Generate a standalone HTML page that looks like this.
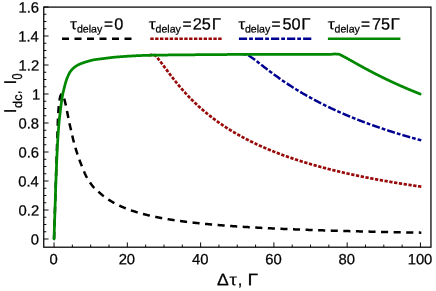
<!DOCTYPE html>
<html><head><meta charset="utf-8"><style>
html,body{margin:0;padding:0;background:#fff;}
svg{display:block;}
text{font-family:"Liberation Sans",sans-serif;fill:#000;stroke:#000;text-rendering:geometricPrecision;}
</style></head><body>
<svg width="436" height="291" viewBox="0 0 436 291">
<defs><mask id="m" maskUnits="userSpaceOnUse" x="0" y="0" width="436" height="291"><rect x="0" y="0" width="436" height="291" fill="#fff"/></mask></defs>
<rect x="0" y="0" width="436" height="291" fill="#fff"/>
<g fill="none" stroke-linejoin="round">
<path d="M54.05,239.00 L54.23,233.16 L54.41,227.36 L54.59,221.58 L54.77,215.83 L54.95,210.12 L55.13,204.44 L55.31,198.80 L55.49,193.19 L55.67,187.61 L55.85,182.03 L56.03,176.44 L56.21,170.82 L56.39,165.19 L56.56,159.61 L56.74,154.12 L56.92,148.78 L57.10,143.58 L57.28,138.41 L57.46,133.03 L57.64,127.40 L57.82,122.57 L58.00,118.54 L58.18,114.95 L58.36,111.87 L58.54,109.35 L58.72,107.17 L58.90,105.26 L59.08,103.62 L59.26,102.23 L59.44,100.94 L59.62,99.74 L59.80,98.64 L59.98,97.68 L60.16,96.88 L60.34,96.26 L60.52,95.78 L60.70,95.32 L60.88,94.91 L61.06,94.55 L61.24,94.26 L61.42,94.08 L61.60,94.00 L61.78,94.04 L61.96,94.16 L62.14,94.35 L62.32,94.59 L62.50,94.86 L62.68,95.15 L62.86,95.44 L63.04,95.75 L63.22,96.11 L63.40,96.51 L63.58,96.96 L63.76,97.43 L63.94,97.94 L64.12,98.47 L64.29,99.02 L64.47,99.62 L64.65,100.26 L64.83,100.95 L65.01,101.67 L65.19,102.43 L65.37,103.22 L65.55,104.04 L65.73,104.88 L65.91,105.74 L66.09,106.61 L66.27,107.49 L66.45,108.38 L66.63,109.28 L66.81,110.17 L66.99,111.05 L67.17,111.93 L67.35,112.79 L67.53,113.66 L67.71,114.56 L67.89,115.47 L68.07,116.40 L68.25,117.34 L68.43,118.28 L68.61,119.22 L68.79,120.16 L68.97,121.08 L69.15,121.98 L69.33,122.86 L69.51,123.71 L69.69,124.53 L69.87,125.31 L70.05,126.07 L70.23,126.81 L70.41,127.54 L70.59,128.28 L70.77,129.01 L70.95,129.77 L71.13,130.53 L71.31,131.31 L71.49,132.09 L71.67,132.88 L71.85,133.67 L72.03,134.46 L72.39,136.07 L72.76,137.66 L73.12,139.22 L73.49,140.71 L73.86,142.14 L74.22,143.51 L74.59,144.84 L74.96,146.15 L75.32,147.42 L75.69,148.67 L76.06,149.88 L76.42,151.07 L76.79,152.23 L77.16,153.36 L77.52,154.47 L77.89,155.55 L78.26,156.61 L78.62,157.65 L78.99,158.66 L79.36,159.66 L79.72,160.64 L80.09,161.60 L80.45,162.55 L80.82,163.49 L81.19,164.42 L81.55,165.34 L81.92,166.26 L82.29,167.19 L82.65,168.11 L83.02,169.04 L83.39,169.96 L83.75,170.86 L84.12,171.75 L84.49,172.62 L84.85,173.47 L85.22,174.28 L85.59,175.06 L85.95,175.80 L86.32,176.50 L86.69,177.15 L87.05,177.77 L87.42,178.39 L87.78,179.00 L88.15,179.61 L88.52,180.21 L88.88,180.79 L89.25,181.37 L89.62,181.94 L89.98,182.49 L90.35,183.04 L90.72,183.57 L91.08,184.08 L91.45,184.58 L91.82,185.07 L92.18,185.53 L92.55,185.98 L92.92,186.42 L93.28,186.83 L93.65,187.22 L94.02,187.60 L94.38,187.95 L94.75,188.28 L95.11,188.58 L95.48,188.86 L95.85,189.06 L96.21,189.44 L96.58,189.82 L96.95,190.19 L97.31,190.56 L97.68,190.92 L98.05,191.27 L98.41,191.62 L98.78,191.97 L99.15,192.31 L99.51,192.64 L99.88,192.97 L100.25,193.30 L100.61,193.62 L100.98,193.93 L101.34,194.25 L101.71,194.55 L102.08,194.86 L102.44,195.16 L102.81,195.45 L103.18,195.74 L103.54,196.03 L103.91,196.31 L104.28,196.59 L104.64,196.87 L105.01,197.14 L105.38,197.41 L105.74,197.68 L106.11,197.94 L106.48,198.20 L106.84,198.45 L107.21,198.71 L107.58,198.96 L107.94,199.20 L108.31,199.45 L108.68,199.69 L109.04,199.92 L109.41,200.16 L109.77,200.39 L110.14,200.62 L110.51,200.85 L110.87,201.07 L111.24,201.29 L111.61,201.51 L111.97,201.73 L112.34,201.94 L112.71,202.15 L113.07,202.36 L113.44,202.57 L113.81,202.77 L114.17,202.97 L114.54,203.17 L114.91,203.37 L115.27,203.56 L115.64,203.76 L116.00,203.95 L116.37,204.14 L116.74,204.32 L117.10,204.51 L117.47,204.69 L117.84,204.87 L118.20,205.05 L118.57,205.23 L118.94,205.41 L119.30,205.58 L119.67,205.75 L120.04,205.92 L120.40,206.09 L120.77,206.26 L121.14,206.42 L121.50,206.58 L121.87,206.75 L122.24,206.91 L122.60,207.06 L122.97,207.22 L123.34,207.38 L123.70,207.53 L124.07,207.68 L124.43,207.83 L124.80,207.98 L125.17,208.13 L125.53,208.28 L125.90,208.42 L126.27,208.57 L126.63,208.71 L127.00,208.85 L127.37,208.99 L127.73,209.13 L128.10,209.27 L128.47,209.40 L128.83,209.54 L129.20,209.67 L129.57,209.80 L129.93,209.93 L130.30,210.06 L130.67,210.19 L131.03,210.32 L131.40,210.45 L131.76,210.57 L132.13,210.70 L132.50,210.82 L132.86,210.94 L133.23,211.06 L133.60,211.18 L133.96,211.30 L134.33,211.42 L134.70,211.54 L135.06,211.66 L135.43,211.77 L135.80,211.88 L136.16,212.00 L136.53,212.11 L136.90,212.22 L137.26,212.33 L137.63,212.44 L138.00,212.55 L138.36,212.66 L138.73,212.76 L139.09,212.87 L139.46,212.98 L139.83,213.08 L140.19,213.18 L140.56,213.29 L140.93,213.39 L141.29,213.49 L141.66,213.59 L142.03,213.69 L142.39,213.79 L142.76,213.89 L143.13,213.98 L143.49,214.08 L143.86,214.17 L144.23,214.27 L144.59,214.36 L144.96,214.46 L145.32,214.55 L145.69,214.64 L146.06,214.73 L146.42,214.82 L146.79,214.91 L147.16,215.00 L147.52,215.09 L147.89,215.18 L148.26,215.27 L148.62,215.35 L148.99,215.44 L149.36,215.53 L149.72,215.61 L150.09,215.70 L150.46,215.78 L150.82,215.86 L151.19,215.94 L151.56,216.03 L151.92,216.11 L152.29,216.19 L152.66,216.27 L153.02,216.35 L153.39,216.43 L153.75,216.51 L154.12,216.58 L154.49,216.66 L154.85,216.74 L155.11,216.79 L155.22,216.81 L155.59,216.89 L155.95,216.97 L156.32,217.04 L156.69,217.12 L157.05,217.19 L157.42,217.26 L157.79,217.34 L158.15,217.41 L158.52,217.48 L158.89,217.55 L159.25,217.62 L159.62,217.69 L159.99,217.76 L160.35,217.83 L160.72,217.90 L161.08,217.97 L161.45,218.04 L161.82,218.11 L162.18,218.17 L162.55,218.24 L162.92,218.31 L163.28,218.37 L163.65,218.44 L164.02,218.50 L164.38,218.57 L164.75,218.63 L165.12,218.70 L165.48,218.76 L165.85,218.82 L166.22,218.88 L166.58,218.95 L166.95,219.01 L167.31,219.07 L167.68,219.13 L168.05,219.19 L168.41,219.25 L168.78,219.31 L169.15,219.37 L169.51,219.43 L169.88,219.49 L170.25,219.55 L170.61,219.61 L170.98,219.67 L171.35,219.72 L171.71,219.78 L172.08,219.84 L172.45,219.90 L172.81,219.95 L173.18,220.01 L173.55,220.06 L173.91,220.12 L174.28,220.17 L174.65,220.23 L175.01,220.28 L175.38,220.34 L175.74,220.39 L176.11,220.44 L176.48,220.50 L176.84,220.55 L177.21,220.60 L177.58,220.65 L177.94,220.71 L178.31,220.76 L178.68,220.81 L179.04,220.86 L179.41,220.91 L179.78,220.96 L180.14,221.01 L180.51,221.06 L180.88,221.11 L181.24,221.16 L181.61,221.21 L181.98,221.26 L182.34,221.31 L182.71,221.35 L183.07,221.40 L183.44,221.45 L183.81,221.50 L184.17,221.55 L184.54,221.59 L184.91,221.64 L185.27,221.69 L185.64,221.73 L186.01,221.78 L186.37,221.82 L186.74,221.87 L187.11,221.91 L187.47,221.96 L187.84,222.00 L188.21,222.05 L188.57,222.09 L188.94,222.14 L189.31,222.18 L189.67,222.22 L190.04,222.27 L190.40,222.31 L190.77,222.35 L191.14,222.40 L191.50,222.44 L191.87,222.48 L192.24,222.52 L192.60,222.57 L192.97,222.61 L193.34,222.65 L193.70,222.69 L194.07,222.73 L194.44,222.77 L194.80,222.81 L195.17,222.85 L195.54,222.89 L195.90,222.93 L196.27,222.97 L196.63,223.01 L197.00,223.05 L197.37,223.09 L197.73,223.13 L198.10,223.17 L198.47,223.21 L198.83,223.25 L199.20,223.28 L199.57,223.32 L199.93,223.36 L200.30,223.40 L200.67,223.44 L201.03,223.47 L201.40,223.51 L201.77,223.55 L202.13,223.58 L202.50,223.62 L202.87,223.66 L203.23,223.69 L203.60,223.73 L203.97,223.77 L204.33,223.80 L204.70,223.84 L205.06,223.87 L205.43,223.91 L205.80,223.94 L206.16,223.98 L206.53,224.01 L206.90,224.05 L207.26,224.08 L207.63,224.12 L208.00,224.15 L208.36,224.18 L208.73,224.22 L209.10,224.25 L209.46,224.29 L209.83,224.32 L210.20,224.35 L210.56,224.39 L210.93,224.42 L211.30,224.45 L211.66,224.48 L212.03,224.52 L212.39,224.55 L212.76,224.58 L213.13,224.61 L213.49,224.64 L213.86,224.68 L214.23,224.71 L214.59,224.74 L214.96,224.77 L215.33,224.80 L215.69,224.83 L216.06,224.86 L216.43,224.90 L216.79,224.93 L217.16,224.96 L217.53,224.99 L217.89,225.02 L218.26,225.05 L218.63,225.08 L218.99,225.11 L219.36,225.14 L219.72,225.17 L220.09,225.20 L220.46,225.23 L220.82,225.26 L221.19,225.28 L221.56,225.31 L221.92,225.34 L222.29,225.37 L222.66,225.40 L223.02,225.43 L223.39,225.46 L223.76,225.48 L224.12,225.51 L224.49,225.54 L224.86,225.57 L225.22,225.60 L225.59,225.62 L225.96,225.65 L226.32,225.68 L226.69,225.71 L227.05,225.73 L227.42,225.76 L227.79,225.79 L228.15,225.82 L228.52,225.84 L228.89,225.87 L229.25,225.90 L229.62,225.92 L229.99,225.95 L230.35,225.97 L230.72,226.00 L231.09,226.03 L231.45,226.05 L231.82,226.08 L232.19,226.10 L232.55,226.13 L232.92,226.16 L233.29,226.18 L233.65,226.21 L234.02,226.23 L234.38,226.26 L234.75,226.28 L235.12,226.31 L235.48,226.33 L235.85,226.36 L236.22,226.38 L236.58,226.41 L236.95,226.43 L237.32,226.45 L237.68,226.48 L238.05,226.50 L238.42,226.53 L238.78,226.55 L239.15,226.58 L239.52,226.60 L239.88,226.62 L240.25,226.65 L240.62,226.67 L240.98,226.69 L241.35,226.72 L241.71,226.74 L242.08,226.76 L242.45,226.79 L242.81,226.81 L243.18,226.83 L243.55,226.86 L243.91,226.88 L244.28,226.90 L244.65,226.92 L245.01,226.95 L245.38,226.97 L245.75,226.99 L246.11,227.01 L246.48,227.04 L246.85,227.06 L247.21,227.08 L247.58,227.10 L247.95,227.12 L248.31,227.14 L248.68,227.17 L249.04,227.19 L249.41,227.21 L249.78,227.23 L250.14,227.25 L250.51,227.27 L250.88,227.30 L251.24,227.32 L251.61,227.34 L251.98,227.36 L252.34,227.38 L252.71,227.40 L253.08,227.42 L253.44,227.44 L253.81,227.46 L254.18,227.48 L254.54,227.50 L254.91,227.52 L255.28,227.54 L255.64,227.56 L256.01,227.58 L256.37,227.60 L256.74,227.62 L257.11,227.64 L257.47,227.66 L257.84,227.68 L258.21,227.70 L258.57,227.72 L258.94,227.74 L259.31,227.76 L259.67,227.78 L260.04,227.80 L260.41,227.82 L260.77,227.84 L261.14,227.86 L261.51,227.88 L261.87,227.90 L262.24,227.92 L262.61,227.94 L262.97,227.95 L263.34,227.97 L263.70,227.99 L264.07,228.01 L264.44,228.03 L264.80,228.05 L265.17,228.07 L265.54,228.09 L265.90,228.10 L266.27,228.12 L266.64,228.14 L267.00,228.16 L267.37,228.18 L267.74,228.19 L268.10,228.21 L268.47,228.23 L268.84,228.25 L269.20,228.27 L269.57,228.28 L269.94,228.30 L270.30,228.32 L270.67,228.34 L271.03,228.35 L271.40,228.37 L271.77,228.39 L272.13,228.41 L272.50,228.42 L272.87,228.44 L273.23,228.46 L273.60,228.48 L273.97,228.49 L274.33,228.51 L274.70,228.53 L275.07,228.54 L275.43,228.56 L275.80,228.58 L276.17,228.59 L276.53,228.61 L276.90,228.63 L277.27,228.64 L277.63,228.66 L278.00,228.68 L278.36,228.69 L278.73,228.71 L279.10,228.73 L279.46,228.74 L279.83,228.76 L280.20,228.78 L280.56,228.79 L280.93,228.81 L281.30,228.82 L281.66,228.84 L282.03,228.86 L282.40,228.87 L282.76,228.89 L283.13,228.90 L283.50,228.92 L283.86,228.93 L284.23,228.95 L284.60,228.97 L284.96,228.98 L285.33,229.00 L285.69,229.01 L286.06,229.03 L286.43,229.04 L286.79,229.06 L287.16,229.07 L287.53,229.09 L287.89,229.10 L288.26,229.12 L288.63,229.13 L288.99,229.15 L289.36,229.16 L289.73,229.18 L290.09,229.19 L290.46,229.21 L290.83,229.22 L291.19,229.24 L291.56,229.25 L291.93,229.27 L292.29,229.28 L292.66,229.30 L293.02,229.31 L293.39,229.33 L293.76,229.34 L294.12,229.35 L294.49,229.37 L294.86,229.38 L295.22,229.40 L295.59,229.41 L295.96,229.43 L296.32,229.44 L296.69,229.45 L297.06,229.47 L297.42,229.48 L297.79,229.50 L298.16,229.51 L298.52,229.52 L298.89,229.54 L299.25,229.55 L299.62,229.57 L299.99,229.58 L300.35,229.59 L300.72,229.61 L301.09,229.62 L301.45,229.63 L301.82,229.65 L302.19,229.66 L302.55,229.67 L302.92,229.69 L303.29,229.70 L303.65,229.72 L304.02,229.73 L304.39,229.74 L304.75,229.75 L305.12,229.77 L305.49,229.78 L305.85,229.79 L306.22,229.81 L306.58,229.82 L306.95,229.83 L307.32,229.85 L307.68,229.86 L308.05,229.87 L308.42,229.89 L308.78,229.90 L309.15,229.91 L309.52,229.92 L309.88,229.94 L310.25,229.95 L310.62,229.96 L310.98,229.97 L311.35,229.99 L311.72,230.00 L312.08,230.01 L312.45,230.02 L312.82,230.04 L313.18,230.05 L313.55,230.06 L313.91,230.07 L314.28,230.09 L314.65,230.10 L315.01,230.11 L315.38,230.12 L315.75,230.14 L316.11,230.15 L316.48,230.16 L316.85,230.17 L317.21,230.18 L317.58,230.20 L317.95,230.21 L318.31,230.22 L318.68,230.23 L319.05,230.24 L319.41,230.25 L319.78,230.27 L320.15,230.28 L320.51,230.29 L320.88,230.30 L321.25,230.31 L321.61,230.33 L321.98,230.34 L322.34,230.35 L322.71,230.36 L323.08,230.37 L323.44,230.38 L323.81,230.39 L324.18,230.41 L324.54,230.42 L324.91,230.43 L325.28,230.44 L325.64,230.45 L326.01,230.46 L326.38,230.47 L326.74,230.49 L327.11,230.50 L327.48,230.51 L327.84,230.52 L328.21,230.53 L328.57,230.54 L328.94,230.55 L329.31,230.56 L329.67,230.57 L330.04,230.58 L330.41,230.60 L330.77,230.61 L331.14,230.62 L331.51,230.63 L331.87,230.64 L332.24,230.65 L332.61,230.66 L332.97,230.67 L333.34,230.68 L333.71,230.69 L334.07,230.70 L334.44,230.71 L334.81,230.72 L335.17,230.74 L335.54,230.75 L335.90,230.76 L336.27,230.77 L336.64,230.78 L337.00,230.79 L337.37,230.80 L337.74,230.81 L338.10,230.82 L338.47,230.83 L338.84,230.84 L339.20,230.85 L339.20,230.85 L339.57,230.86 L339.94,230.87 L340.30,230.88 L340.67,230.89 L341.04,230.90 L341.40,230.91 L341.77,230.92 L342.14,230.93 L342.50,230.94 L342.87,230.95 L343.24,230.96 L343.60,230.97 L343.97,230.98 L344.33,230.99 L344.70,231.00 L345.07,231.01 L345.43,231.02 L345.80,231.03 L346.17,231.04 L346.53,231.05 L346.90,231.06 L347.27,231.07 L347.63,231.08 L348.00,231.09 L348.37,231.10 L348.73,231.11 L349.10,231.12 L349.47,231.13 L349.83,231.14 L350.20,231.15 L350.56,231.16 L350.93,231.17 L351.30,231.18 L351.66,231.18 L352.03,231.19 L352.40,231.20 L352.76,231.21 L353.13,231.22 L353.50,231.23 L353.86,231.24 L354.23,231.25 L354.60,231.26 L354.96,231.27 L355.33,231.28 L355.70,231.29 L356.06,231.30 L356.43,231.31 L356.80,231.31 L357.16,231.32 L357.53,231.33 L357.89,231.34 L358.26,231.35 L358.63,231.36 L358.99,231.37 L359.36,231.38 L359.73,231.39 L360.09,231.40 L360.46,231.41 L360.83,231.41 L361.19,231.42 L361.56,231.43 L361.93,231.44 L362.29,231.45 L362.66,231.46 L363.03,231.47 L363.39,231.48 L363.76,231.48 L364.13,231.49 L364.49,231.50 L364.86,231.51 L365.22,231.52 L365.59,231.53 L365.96,231.54 L366.32,231.55 L366.69,231.55 L367.06,231.56 L367.42,231.57 L367.79,231.58 L368.16,231.59 L368.52,231.60 L368.89,231.60 L369.26,231.61 L369.62,231.62 L369.99,231.63 L370.36,231.64 L370.72,231.65 L371.09,231.66 L371.46,231.66 L371.82,231.67 L372.19,231.68 L372.56,231.69 L372.92,231.70 L373.29,231.71 L373.65,231.71 L374.02,231.72 L374.39,231.73 L374.75,231.74 L375.12,231.75 L375.49,231.75 L375.85,231.76 L376.22,231.77 L376.59,231.78 L376.95,231.79 L377.32,231.79 L377.69,231.80 L378.05,231.81 L378.42,231.82 L378.79,231.83 L379.15,231.83 L379.52,231.84 L379.88,231.85 L380.25,231.86 L380.62,231.87 L380.98,231.87 L381.35,231.88 L381.72,231.89 L382.08,231.90 L382.45,231.91 L382.82,231.91 L383.18,231.92 L383.55,231.93 L383.92,231.94 L384.28,231.94 L384.65,231.95 L385.02,231.96 L385.38,231.97 L385.75,231.97 L386.12,231.98 L386.48,231.99 L386.85,232.00 L387.21,232.00 L387.58,232.01 L387.95,232.02 L388.31,232.03 L388.68,232.04 L389.05,232.04 L389.41,232.05 L389.78,232.06 L390.15,232.06 L390.51,232.07 L390.88,232.08 L391.25,232.09 L391.61,232.09 L391.98,232.10 L392.35,232.11 L392.71,232.12 L393.08,232.12 L393.45,232.13 L393.81,232.14 L394.18,232.15 L394.55,232.15 L394.91,232.16 L395.28,232.17 L395.64,232.17 L396.01,232.18 L396.38,232.19 L396.74,232.20 L397.11,232.20 L397.48,232.21 L397.84,232.22 L398.21,232.22 L398.58,232.23 L398.94,232.24 L399.31,232.25 L399.68,232.25 L400.04,232.26 L400.41,232.27 L400.78,232.27 L401.14,232.28 L401.51,232.29 L401.88,232.29 L402.24,232.30 L402.61,232.31 L402.97,232.32 L403.34,232.32 L403.71,232.33 L404.07,232.34 L404.44,232.34 L404.81,232.35 L405.17,232.36 L405.54,232.36 L405.91,232.37 L406.27,232.38 L406.64,232.38 L407.01,232.39 L407.37,232.40 L407.74,232.40 L408.11,232.41 L408.47,232.42 L408.84,232.42 L409.20,232.43 L409.57,232.44 L409.94,232.44 L410.30,232.45 L410.67,232.46 L411.04,232.46 L411.40,232.47 L411.77,232.48 L412.14,232.48 L412.50,232.49 L412.87,232.50 L413.24,232.50 L413.60,232.51 L413.97,232.52 L414.34,232.52 L414.70,232.53 L415.07,232.54 L415.44,232.54 L415.80,232.55 L416.17,232.56 L416.53,232.56 L416.90,232.57 L417.27,232.57 L417.63,232.58 L418.00,232.59 L418.37,232.59 L418.73,232.60 L419.10,232.61 L419.47,232.61 L419.83,232.62 L420.20,232.63 L420.57,232.63 L420.93,232.64 L421.30,232.64" stroke="#000" stroke-width="2.5" stroke-dasharray="7.1,5.487" stroke-dashoffset="12.55"/>
<path d="M149.36,55.12 L149.72,55.07 L150.09,55.03 L150.46,54.99 L150.82,54.96 L151.19,54.95 L151.56,54.96 L151.92,54.98 L152.29,55.01 L152.66,55.04 L153.02,55.08 L153.39,55.11 L153.75,55.13 L154.12,55.15 L154.49,55.16 L154.85,55.16 L155.11,55.17 L155.22,55.29 L155.59,55.70 L155.95,56.11 L156.32,56.53 L156.69,56.96 L157.05,57.40 L157.42,57.84 L157.79,58.28 L158.15,58.74 L158.52,59.19 L158.89,59.65 L159.25,60.12 L159.62,60.59 L159.99,61.06 L160.35,61.54 L160.72,62.02 L161.08,62.50 L161.45,62.98 L161.82,63.47 L162.18,63.95 L162.55,64.44 L162.92,64.93 L163.28,65.42 L163.65,65.91 L164.02,66.40 L164.38,66.90 L164.75,67.39 L165.12,67.88 L165.48,68.37 L165.85,68.87 L166.22,69.36 L166.58,69.85 L166.95,70.34 L167.31,70.83 L167.68,71.32 L168.05,71.81 L168.41,72.30 L168.78,72.78 L169.15,73.27 L169.51,73.75 L169.88,74.24 L170.25,74.72 L170.61,75.20 L170.98,75.68 L171.35,76.16 L171.71,76.63 L172.08,77.11 L172.45,77.58 L172.81,78.05 L173.18,78.52 L173.55,78.99 L173.91,79.45 L174.28,79.91 L174.65,80.38 L175.01,80.84 L175.38,81.29 L175.74,81.75 L176.11,82.20 L176.48,82.66 L176.84,83.11 L177.21,83.55 L177.58,84.00 L177.94,84.44 L178.31,84.89 L178.68,85.33 L179.04,85.76 L179.41,86.20 L179.78,86.63 L180.14,87.07 L180.51,87.50 L180.88,87.92 L181.24,88.35 L181.61,88.77 L181.98,89.19 L182.34,89.61 L182.71,90.03 L183.07,90.45 L183.44,90.86 L183.81,91.27 L184.17,91.68 L184.54,92.09 L184.91,92.49 L185.27,92.90 L185.64,93.30 L186.01,93.70 L186.37,94.09 L186.74,94.49 L187.11,94.88 L187.47,95.27 L187.84,95.66 L188.21,96.05 L188.57,96.43 L188.94,96.82 L189.31,97.20 L189.67,97.58 L190.04,97.96 L190.40,98.33 L190.77,98.70 L191.14,99.08 L191.50,99.45 L191.87,99.81 L192.24,100.18 L192.60,100.54 L192.97,100.91 L193.34,101.27 L193.70,101.63 L194.07,101.98 L194.44,102.34 L194.80,102.69 L195.17,103.04 L195.54,103.39 L195.90,103.74 L196.27,104.09 L196.63,104.43 L197.00,104.78 L197.37,105.12 L197.73,105.46 L198.10,105.80 L198.47,106.13 L198.83,106.47 L199.20,106.80 L199.57,107.13 L199.93,107.46 L200.30,107.79 L200.67,108.12 L201.03,108.44 L201.40,108.76 L201.77,109.09 L202.13,109.41 L202.50,109.73 L202.87,110.04 L203.23,110.36 L203.60,110.67 L203.97,110.98 L204.33,111.30 L204.70,111.61 L205.06,111.91 L205.43,112.22 L205.80,112.53 L206.16,112.83 L206.53,113.13 L206.90,113.43 L207.26,113.73 L207.63,114.03 L208.00,114.33 L208.36,114.62 L208.73,114.92 L209.10,115.21 L209.46,115.50 L209.83,115.79 L210.20,116.08 L210.56,116.36 L210.93,116.65 L211.30,116.93 L211.66,117.22 L212.03,117.50 L212.39,117.78 L212.76,118.06 L213.13,118.34 L213.49,118.61 L213.86,118.89 L214.23,119.16 L214.59,119.44 L214.96,119.71 L215.33,119.98 L215.69,120.25 L216.06,120.51 L216.43,120.78 L216.79,121.05 L217.16,121.31 L217.53,121.57 L217.89,121.84 L218.26,122.10 L218.63,122.36 L218.99,122.62 L219.36,122.87 L219.72,123.13 L220.09,123.38 L220.46,123.64 L220.82,123.89 L221.19,124.14 L221.56,124.39 L221.92,124.64 L222.29,124.89 L222.66,125.14 L223.02,125.39 L223.39,125.63 L223.76,125.88 L224.12,126.12 L224.49,126.36 L224.86,126.60 L225.22,126.84 L225.59,127.08 L225.96,127.32 L226.32,127.56 L226.69,127.79 L227.05,128.03 L227.42,128.26 L227.79,128.50 L228.15,128.73 L228.52,128.96 L228.89,129.19 L229.25,129.42 L229.62,129.65 L229.99,129.87 L230.35,130.10 L230.72,130.33 L231.09,130.55 L231.45,130.77 L231.82,131.00 L232.19,131.22 L232.55,131.44 L232.92,131.66 L233.29,131.88 L233.65,132.10 L234.02,132.31 L234.38,132.53 L234.75,132.75 L235.12,132.96 L235.48,133.17 L235.85,133.39 L236.22,133.60 L236.58,133.81 L236.95,134.02 L237.32,134.23 L237.68,134.44 L238.05,134.65 L238.42,134.85 L238.78,135.06 L239.15,135.26 L239.52,135.47 L239.88,135.67 L240.25,135.88 L240.62,136.08 L240.98,136.28 L241.35,136.48 L241.71,136.68 L242.08,136.88 L242.45,137.08 L242.81,137.28 L243.18,137.47 L243.55,137.67 L243.91,137.86 L244.28,138.06 L244.65,138.25 L245.01,138.44 L245.38,138.64 L245.75,138.83 L246.11,139.02 L246.48,139.21 L246.85,139.40 L247.21,139.59 L247.58,139.78 L247.95,139.96 L248.31,140.15 L248.68,140.33 L249.04,140.52 L249.41,140.70 L249.78,140.89 L250.14,141.07 L250.51,141.25 L250.88,141.43 L251.24,141.62 L251.61,141.80 L251.98,141.98 L252.34,142.15 L252.71,142.33 L253.08,142.51 L253.44,142.69 L253.81,142.86 L254.18,143.04 L254.54,143.22 L254.91,143.39 L255.28,143.56 L255.64,143.74 L256.01,143.91 L256.37,144.08 L256.74,144.25 L257.11,144.42 L257.47,144.59 L257.84,144.76 L258.21,144.93 L258.57,145.10 L258.94,145.27 L259.31,145.43 L259.67,145.60 L260.04,145.77 L260.41,145.93 L260.77,146.10 L261.14,146.26 L261.51,146.43 L261.87,146.59 L262.24,146.75 L262.61,146.91 L262.97,147.07 L263.34,147.23 L263.70,147.39 L264.07,147.55 L264.44,147.71 L264.80,147.87 L265.17,148.03 L265.54,148.19 L265.90,148.34 L266.27,148.50 L266.64,148.66 L267.00,148.81 L267.37,148.97 L267.74,149.12 L268.10,149.27 L268.47,149.43 L268.84,149.58 L269.20,149.73 L269.57,149.88 L269.94,150.03 L270.30,150.18 L270.67,150.33 L271.03,150.48 L271.40,150.63 L271.77,150.78 L272.13,150.93 L272.50,151.08 L272.87,151.22 L273.23,151.37 L273.60,151.52 L273.97,151.66 L274.33,151.81 L274.70,151.95 L275.07,152.10 L275.43,152.24 L275.80,152.38 L276.17,152.53 L276.53,152.67 L276.90,152.81 L277.27,152.95 L277.63,153.09 L278.00,153.23 L278.36,153.37 L278.73,153.51 L279.10,153.65 L279.46,153.79 L279.83,153.93 L280.20,154.06 L280.56,154.20 L280.93,154.34 L281.30,154.48 L281.66,154.61 L282.03,154.75 L282.40,154.88 L282.76,155.02 L283.13,155.15 L283.50,155.28 L283.86,155.42 L284.23,155.55 L284.60,155.68 L284.96,155.81 L285.33,155.95 L285.69,156.08 L286.06,156.21 L286.43,156.34 L286.79,156.47 L287.16,156.60 L287.53,156.73 L287.89,156.86 L288.26,156.98 L288.63,157.11 L288.99,157.24 L289.36,157.37 L289.73,157.49 L290.09,157.62 L290.46,157.75 L290.83,157.87 L291.19,158.00 L291.56,158.12 L291.93,158.25 L292.29,158.37 L292.66,158.49 L293.02,158.62 L293.39,158.74 L293.76,158.86 L294.12,158.98 L294.49,159.11 L294.86,159.23 L295.22,159.35 L295.59,159.47 L295.96,159.59 L296.32,159.71 L296.69,159.83 L297.06,159.95 L297.42,160.07 L297.79,160.19 L298.16,160.30 L298.52,160.42 L298.89,160.54 L299.25,160.66 L299.62,160.77 L299.99,160.89 L300.35,161.01 L300.72,161.12 L301.09,161.24 L301.45,161.35 L301.82,161.47 L302.19,161.58 L302.55,161.70 L302.92,161.81 L303.29,161.92 L303.65,162.04 L304.02,162.15 L304.39,162.26 L304.75,162.37 L305.12,162.48 L305.49,162.60 L305.85,162.71 L306.22,162.82 L306.58,162.93 L306.95,163.04 L307.32,163.15 L307.68,163.26 L308.05,163.37 L308.42,163.47 L308.78,163.58 L309.15,163.69 L309.52,163.80 L309.88,163.91 L310.25,164.01 L310.62,164.12 L310.98,164.23 L311.35,164.33 L311.72,164.44 L312.08,164.55 L312.45,164.65 L312.82,164.76 L313.18,164.86 L313.55,164.97 L313.91,165.07 L314.28,165.17 L314.65,165.28 L315.01,165.38 L315.38,165.48 L315.75,165.59 L316.11,165.69 L316.48,165.79 L316.85,165.89 L317.21,166.00 L317.58,166.10 L317.95,166.20 L318.31,166.30 L318.68,166.40 L319.05,166.50 L319.41,166.60 L319.78,166.70 L320.15,166.80 L320.51,166.90 L320.88,167.00 L321.25,167.10 L321.61,167.19 L321.98,167.29 L322.34,167.39 L322.71,167.49 L323.08,167.59 L323.44,167.68 L323.81,167.78 L324.18,167.88 L324.54,167.97 L324.91,168.07 L325.28,168.16 L325.64,168.26 L326.01,168.35 L326.38,168.45 L326.74,168.54 L327.11,168.64 L327.48,168.73 L327.84,168.83 L328.21,168.92 L328.57,169.01 L328.94,169.11 L329.31,169.20 L329.67,169.29 L330.04,169.38 L330.41,169.48 L330.77,169.57 L331.14,169.66 L331.51,169.75 L331.87,169.84 L332.24,169.93 L332.61,170.02 L332.97,170.12 L333.34,170.21 L333.71,170.30 L334.07,170.39 L334.44,170.48 L334.81,170.56 L335.17,170.65 L335.54,170.74 L335.90,170.83 L336.27,170.92 L336.64,171.01 L337.00,171.10 L337.37,171.18 L337.74,171.27 L338.10,171.36 L338.47,171.45 L338.84,171.53 L339.20,171.62 L339.20,171.62 L339.57,171.71 L339.94,171.79 L340.30,171.88 L340.67,171.96 L341.04,172.05 L341.40,172.13 L341.77,172.22 L342.14,172.30 L342.50,172.39 L342.87,172.47 L343.24,172.56 L343.60,172.64 L343.97,172.72 L344.33,172.81 L344.70,172.89 L345.07,172.97 L345.43,173.06 L345.80,173.14 L346.17,173.22 L346.53,173.31 L346.90,173.39 L347.27,173.47 L347.63,173.55 L348.00,173.63 L348.37,173.71 L348.73,173.80 L349.10,173.88 L349.47,173.96 L349.83,174.04 L350.20,174.12 L350.56,174.20 L350.93,174.28 L351.30,174.36 L351.66,174.44 L352.03,174.52 L352.40,174.60 L352.76,174.67 L353.13,174.75 L353.50,174.83 L353.86,174.91 L354.23,174.99 L354.60,175.07 L354.96,175.14 L355.33,175.22 L355.70,175.30 L356.06,175.38 L356.43,175.45 L356.80,175.53 L357.16,175.61 L357.53,175.68 L357.89,175.76 L358.26,175.84 L358.63,175.91 L358.99,175.99 L359.36,176.06 L359.73,176.14 L360.09,176.21 L360.46,176.29 L360.83,176.36 L361.19,176.44 L361.56,176.51 L361.93,176.59 L362.29,176.66 L362.66,176.73 L363.03,176.81 L363.39,176.88 L363.76,176.96 L364.13,177.03 L364.49,177.10 L364.86,177.17 L365.22,177.25 L365.59,177.32 L365.96,177.39 L366.32,177.46 L366.69,177.54 L367.06,177.61 L367.42,177.68 L367.79,177.75 L368.16,177.82 L368.52,177.89 L368.89,177.97 L369.26,178.04 L369.62,178.11 L369.99,178.18 L370.36,178.25 L370.72,178.32 L371.09,178.39 L371.46,178.46 L371.82,178.53 L372.19,178.60 L372.56,178.67 L372.92,178.74 L373.29,178.81 L373.65,178.87 L374.02,178.94 L374.39,179.01 L374.75,179.08 L375.12,179.15 L375.49,179.22 L375.85,179.28 L376.22,179.35 L376.59,179.42 L376.95,179.49 L377.32,179.55 L377.69,179.62 L378.05,179.69 L378.42,179.76 L378.79,179.82 L379.15,179.89 L379.52,179.96 L379.88,180.02 L380.25,180.09 L380.62,180.15 L380.98,180.22 L381.35,180.29 L381.72,180.35 L382.08,180.42 L382.45,180.48 L382.82,180.55 L383.18,180.61 L383.55,180.68 L383.92,180.74 L384.28,180.81 L384.65,180.87 L385.02,180.94 L385.38,181.00 L385.75,181.06 L386.12,181.13 L386.48,181.19 L386.85,181.26 L387.21,181.32 L387.58,181.38 L387.95,181.45 L388.31,181.51 L388.68,181.57 L389.05,181.63 L389.41,181.70 L389.78,181.76 L390.15,181.82 L390.51,181.88 L390.88,181.95 L391.25,182.01 L391.61,182.07 L391.98,182.13 L392.35,182.19 L392.71,182.25 L393.08,182.32 L393.45,182.38 L393.81,182.44 L394.18,182.50 L394.55,182.56 L394.91,182.62 L395.28,182.68 L395.64,182.74 L396.01,182.80 L396.38,182.86 L396.74,182.92 L397.11,182.98 L397.48,183.04 L397.84,183.10 L398.21,183.16 L398.58,183.22 L398.94,183.28 L399.31,183.34 L399.68,183.40 L400.04,183.46 L400.41,183.51 L400.78,183.57 L401.14,183.63 L401.51,183.69 L401.88,183.75 L402.24,183.81 L402.61,183.86 L402.97,183.92 L403.34,183.98 L403.71,184.04 L404.07,184.09 L404.44,184.15 L404.81,184.21 L405.17,184.27 L405.54,184.32 L405.91,184.38 L406.27,184.44 L406.64,184.49 L407.01,184.55 L407.37,184.61 L407.74,184.66 L408.11,184.72 L408.47,184.77 L408.84,184.83 L409.20,184.89 L409.57,184.94 L409.94,185.00 L410.30,185.05 L410.67,185.11 L411.04,185.16 L411.40,185.22 L411.77,185.27 L412.14,185.33 L412.50,185.38 L412.87,185.44 L413.24,185.49 L413.60,185.55 L413.97,185.60 L414.34,185.66 L414.70,185.71 L415.07,185.76 L415.44,185.82 L415.80,185.87 L416.17,185.93 L416.53,185.98 L416.90,186.03 L417.27,186.09 L417.63,186.14 L418.00,186.19 L418.37,186.25 L418.73,186.30 L419.10,186.35 L419.47,186.40 L419.83,186.46 L420.20,186.51 L420.57,186.56 L420.93,186.61 L421.30,186.67" stroke="#980808" stroke-width="2.7" stroke-dasharray="3.3,1.55" stroke-dashoffset="0.46"/>
<path d="M240.25,54.35 L240.62,54.32 L240.98,54.28 L241.35,54.24 L241.71,54.20 L242.08,54.16 L242.45,54.14 L242.81,54.13 L243.18,54.14 L243.55,54.16 L243.91,54.19 L244.28,54.23 L244.65,54.27 L245.01,54.31 L245.38,54.34 L245.75,54.36 L246.11,54.38 L246.48,54.39 L246.85,54.41 L247.21,54.62 L247.58,54.83 L247.95,55.05 L248.31,55.27 L248.68,55.50 L249.04,55.73 L249.41,55.97 L249.78,56.21 L250.14,56.45 L250.51,56.70 L250.88,56.95 L251.24,57.21 L251.61,57.46 L251.98,57.72 L252.34,57.98 L252.71,58.25 L253.08,58.51 L253.44,58.78 L253.81,59.05 L254.18,59.32 L254.54,59.59 L254.91,59.87 L255.28,60.14 L255.64,60.42 L256.01,60.70 L256.37,60.98 L256.74,61.26 L257.11,61.54 L257.47,61.82 L257.84,62.10 L258.21,62.38 L258.57,62.67 L258.94,62.95 L259.31,63.24 L259.67,63.52 L260.04,63.80 L260.41,64.09 L260.77,64.37 L261.14,64.66 L261.51,64.94 L261.87,65.23 L262.24,65.51 L262.61,65.80 L262.97,66.08 L263.34,66.37 L263.70,66.65 L264.07,66.94 L264.44,67.22 L264.80,67.51 L265.17,67.79 L265.54,68.07 L265.90,68.35 L266.27,68.64 L266.64,68.92 L267.00,69.20 L267.37,69.48 L267.74,69.76 L268.10,70.04 L268.47,70.32 L268.84,70.60 L269.20,70.88 L269.57,71.15 L269.94,71.43 L270.30,71.71 L270.67,71.98 L271.03,72.26 L271.40,72.53 L271.77,72.81 L272.13,73.08 L272.50,73.35 L272.87,73.62 L273.23,73.89 L273.60,74.16 L273.97,74.43 L274.33,74.70 L274.70,74.97 L275.07,75.24 L275.43,75.51 L275.80,75.77 L276.17,76.04 L276.53,76.30 L276.90,76.57 L277.27,76.83 L277.63,77.09 L278.00,77.35 L278.36,77.62 L278.73,77.88 L279.10,78.14 L279.46,78.39 L279.83,78.65 L280.20,78.91 L280.56,79.17 L280.93,79.42 L281.30,79.68 L281.66,79.93 L282.03,80.19 L282.40,80.44 L282.76,80.69 L283.13,80.94 L283.50,81.19 L283.86,81.44 L284.23,81.69 L284.60,81.94 L284.96,82.19 L285.33,82.44 L285.69,82.68 L286.06,82.93 L286.43,83.17 L286.79,83.42 L287.16,83.66 L287.53,83.90 L287.89,84.15 L288.26,84.39 L288.63,84.63 L288.99,84.87 L289.36,85.11 L289.73,85.34 L290.09,85.58 L290.46,85.82 L290.83,86.06 L291.19,86.29 L291.56,86.53 L291.93,86.76 L292.29,86.99 L292.66,87.23 L293.02,87.46 L293.39,87.69 L293.76,87.92 L294.12,88.15 L294.49,88.38 L294.86,88.61 L295.22,88.84 L295.59,89.06 L295.96,89.29 L296.32,89.52 L296.69,89.74 L297.06,89.97 L297.42,90.19 L297.79,90.41 L298.16,90.63 L298.52,90.86 L298.89,91.08 L299.25,91.30 L299.62,91.52 L299.99,91.74 L300.35,91.96 L300.72,92.17 L301.09,92.39 L301.45,92.61 L301.82,92.82 L302.19,93.04 L302.55,93.26 L302.92,93.47 L303.29,93.68 L303.65,93.90 L304.02,94.11 L304.39,94.32 L304.75,94.53 L305.12,94.74 L305.49,94.95 L305.85,95.16 L306.22,95.37 L306.58,95.58 L306.95,95.79 L307.32,95.99 L307.68,96.20 L308.05,96.40 L308.42,96.61 L308.78,96.81 L309.15,97.02 L309.52,97.22 L309.88,97.42 L310.25,97.63 L310.62,97.83 L310.98,98.03 L311.35,98.23 L311.72,98.43 L312.08,98.63 L312.45,98.83 L312.82,99.03 L313.18,99.22 L313.55,99.42 L313.91,99.62 L314.28,99.81 L314.65,100.01 L315.01,100.20 L315.38,100.40 L315.75,100.59 L316.11,100.78 L316.48,100.98 L316.85,101.17 L317.21,101.36 L317.58,101.55 L317.95,101.74 L318.31,101.93 L318.68,102.12 L319.05,102.31 L319.41,102.50 L319.78,102.69 L320.15,102.88 L320.51,103.06 L320.88,103.25 L321.25,103.44 L321.61,103.62 L321.98,103.81 L322.34,103.99 L322.71,104.17 L323.08,104.36 L323.44,104.54 L323.81,104.72 L324.18,104.90 L324.54,105.09 L324.91,105.27 L325.28,105.45 L325.64,105.63 L326.01,105.81 L326.38,105.99 L326.74,106.16 L327.11,106.34 L327.48,106.52 L327.84,106.70 L328.21,106.87 L328.57,107.05 L328.94,107.23 L329.31,107.40 L329.67,107.58 L330.04,107.75 L330.41,107.92 L330.77,108.10 L331.14,108.27 L331.51,108.44 L331.87,108.61 L332.24,108.79 L332.61,108.96 L332.97,109.13 L333.34,109.30 L333.71,109.47 L334.07,109.64 L334.44,109.81 L334.81,109.97 L335.17,110.14 L335.54,110.31 L335.90,110.48 L336.27,110.64 L336.64,110.81 L337.00,110.98 L337.37,111.14 L337.74,111.31 L338.10,111.47 L338.47,111.64 L338.84,111.80 L339.20,111.96 L339.20,111.96 L339.57,112.13 L339.94,112.29 L340.30,112.45 L340.67,112.61 L341.04,112.77 L341.40,112.93 L341.77,113.09 L342.14,113.25 L342.50,113.41 L342.87,113.57 L343.24,113.73 L343.60,113.89 L343.97,114.05 L344.33,114.20 L344.70,114.36 L345.07,114.52 L345.43,114.68 L345.80,114.83 L346.17,114.99 L346.53,115.14 L346.90,115.30 L347.27,115.45 L347.63,115.61 L348.00,115.76 L348.37,115.91 L348.73,116.07 L349.10,116.22 L349.47,116.37 L349.83,116.52 L350.20,116.67 L350.56,116.82 L350.93,116.97 L351.30,117.13 L351.66,117.27 L352.03,117.42 L352.40,117.57 L352.76,117.72 L353.13,117.87 L353.50,118.02 L353.86,118.17 L354.23,118.31 L354.60,118.46 L354.96,118.61 L355.33,118.75 L355.70,118.90 L356.06,119.05 L356.43,119.19 L356.80,119.34 L357.16,119.48 L357.53,119.62 L357.89,119.77 L358.26,119.91 L358.63,120.05 L358.99,120.20 L359.36,120.34 L359.73,120.48 L360.09,120.62 L360.46,120.77 L360.83,120.91 L361.19,121.05 L361.56,121.19 L361.93,121.33 L362.29,121.47 L362.66,121.61 L363.03,121.75 L363.39,121.88 L363.76,122.02 L364.13,122.16 L364.49,122.30 L364.86,122.44 L365.22,122.57 L365.59,122.71 L365.96,122.85 L366.32,122.98 L366.69,123.12 L367.06,123.25 L367.42,123.39 L367.79,123.52 L368.16,123.66 L368.52,123.79 L368.89,123.93 L369.26,124.06 L369.62,124.19 L369.99,124.33 L370.36,124.46 L370.72,124.59 L371.09,124.72 L371.46,124.86 L371.82,124.99 L372.19,125.12 L372.56,125.25 L372.92,125.38 L373.29,125.51 L373.65,125.64 L374.02,125.77 L374.39,125.90 L374.75,126.03 L375.12,126.16 L375.49,126.29 L375.85,126.41 L376.22,126.54 L376.59,126.67 L376.95,126.80 L377.32,126.92 L377.69,127.05 L378.05,127.18 L378.42,127.30 L378.79,127.43 L379.15,127.56 L379.52,127.68 L379.88,127.81 L380.25,127.93 L380.62,128.06 L380.98,128.18 L381.35,128.30 L381.72,128.43 L382.08,128.55 L382.45,128.67 L382.82,128.80 L383.18,128.92 L383.55,129.04 L383.92,129.16 L384.28,129.29 L384.65,129.41 L385.02,129.53 L385.38,129.65 L385.75,129.77 L386.12,129.89 L386.48,130.01 L386.85,130.13 L387.21,130.25 L387.58,130.37 L387.95,130.49 L388.31,130.61 L388.68,130.73 L389.05,130.84 L389.41,130.96 L389.78,131.08 L390.15,131.20 L390.51,131.32 L390.88,131.43 L391.25,131.55 L391.61,131.67 L391.98,131.78 L392.35,131.90 L392.71,132.01 L393.08,132.13 L393.45,132.24 L393.81,132.36 L394.18,132.47 L394.55,132.59 L394.91,132.70 L395.28,132.82 L395.64,132.93 L396.01,133.04 L396.38,133.16 L396.74,133.27 L397.11,133.38 L397.48,133.50 L397.84,133.61 L398.21,133.72 L398.58,133.83 L398.94,133.94 L399.31,134.06 L399.68,134.17 L400.04,134.28 L400.41,134.39 L400.78,134.50 L401.14,134.61 L401.51,134.72 L401.88,134.83 L402.24,134.94 L402.61,135.05 L402.97,135.16 L403.34,135.27 L403.71,135.37 L404.07,135.48 L404.44,135.59 L404.81,135.70 L405.17,135.81 L405.54,135.91 L405.91,136.02 L406.27,136.13 L406.64,136.24 L407.01,136.34 L407.37,136.45 L407.74,136.55 L408.11,136.66 L408.47,136.77 L408.84,136.87 L409.20,136.98 L409.57,137.08 L409.94,137.19 L410.30,137.29 L410.67,137.40 L411.04,137.50 L411.40,137.60 L411.77,137.71 L412.14,137.81 L412.50,137.91 L412.87,138.02 L413.24,138.12 L413.60,138.22 L413.97,138.33 L414.34,138.43 L414.70,138.53 L415.07,138.63 L415.44,138.73 L415.80,138.84 L416.17,138.94 L416.53,139.04 L416.90,139.14 L417.27,139.24 L417.63,139.34 L418.00,139.44 L418.37,139.54 L418.73,139.64 L419.10,139.74 L419.47,139.84 L419.83,139.94 L420.20,140.04 L420.57,140.14 L420.93,140.24 L421.30,140.33" stroke="#000090" stroke-width="2.5" stroke-dasharray="8.1,2.0,3.75,2.03" stroke-dashoffset="7.51"/>
<path d="M54.05,239.00 L54.23,233.30 L54.41,227.62 L54.59,221.98 L54.77,216.37 L54.95,210.79 L55.13,205.21 L55.31,199.53 L55.49,193.87 L55.67,188.34 L55.85,183.05 L56.03,178.12 L56.21,173.42 L56.39,168.90 L56.56,164.56 L56.74,160.41 L56.92,156.47 L57.10,152.70 L57.28,149.05 L57.46,145.53 L57.64,142.17 L57.82,139.00 L58.00,136.05 L58.18,133.35 L58.36,130.81 L58.54,128.40 L58.72,126.14 L58.90,124.02 L59.08,122.03 L59.26,120.18 L59.44,118.48 L59.62,116.90 L59.80,115.41 L59.98,113.95 L60.16,112.51 L60.34,111.05 L60.52,109.57 L60.70,108.10 L60.88,106.65 L61.06,105.23 L61.24,103.86 L61.42,102.54 L61.60,101.25 L61.78,99.98 L61.96,98.74 L62.14,97.56 L62.32,96.45 L62.50,95.44 L62.68,94.51 L62.86,93.62 L63.04,92.78 L63.22,91.97 L63.40,91.20 L63.58,90.45 L63.76,89.72 L63.94,89.01 L64.12,88.30 L64.29,87.61 L64.47,86.91 L64.65,86.21 L64.83,85.52 L65.01,84.84 L65.19,84.17 L65.37,83.51 L65.55,82.87 L65.73,82.24 L65.91,81.64 L66.09,81.07 L66.27,80.52 L66.45,80.00 L66.63,79.51 L66.81,79.03 L66.99,78.55 L67.17,78.08 L67.35,77.63 L67.53,77.18 L67.71,76.74 L67.89,76.30 L68.07,75.88 L68.25,75.47 L68.43,75.07 L68.61,74.68 L68.79,74.31 L68.97,73.94 L69.15,73.59 L69.33,73.25 L69.51,72.93 L69.69,72.62 L69.87,72.32 L70.05,72.04 L70.23,71.78 L70.41,71.53 L70.59,71.28 L70.77,71.04 L70.95,70.81 L71.13,70.58 L71.31,70.36 L71.49,70.14 L71.67,69.93 L71.85,69.72 L72.03,69.52 L72.39,69.13 L72.76,68.75 L73.12,68.39 L73.49,68.05 L73.86,67.73 L74.22,67.42 L74.59,67.12 L74.96,66.84 L75.32,66.58 L75.69,66.32 L76.06,66.08 L76.42,65.85 L76.79,65.62 L77.16,65.41 L77.52,65.20 L77.89,65.01 L78.26,64.82 L78.62,64.63 L78.99,64.46 L79.36,64.29 L79.72,64.12 L80.09,63.96 L80.45,63.80 L80.82,63.65 L81.19,63.50 L81.55,63.36 L81.92,63.22 L82.29,63.09 L82.65,62.96 L83.02,62.83 L83.39,62.71 L83.75,62.59 L84.12,62.47 L84.49,62.36 L84.85,62.24 L85.22,62.13 L85.59,62.02 L85.95,61.91 L86.32,61.80 L86.69,61.69 L87.05,61.58 L87.42,61.47 L87.78,61.36 L88.15,61.26 L88.52,61.15 L88.88,61.04 L89.25,60.94 L89.62,60.84 L89.98,60.73 L90.35,60.64 L90.72,60.54 L91.08,60.44 L91.45,60.35 L91.82,60.26 L92.18,60.18 L92.55,60.09 L92.92,60.02 L93.28,59.94 L93.65,59.87 L94.02,59.80 L94.38,59.74 L94.75,59.67 L95.11,59.61 L95.48,59.56 L95.85,59.50 L96.21,59.45 L96.58,59.40 L96.95,59.35 L97.31,59.30 L97.68,59.25 L98.05,59.21 L98.41,59.16 L98.78,59.12 L99.15,59.07 L99.51,59.03 L99.88,58.99 L100.25,58.94 L100.61,58.90 L100.98,58.85 L101.34,58.81 L101.71,58.76 L102.08,58.72 L102.44,58.67 L102.81,58.63 L103.18,58.58 L103.54,58.53 L103.91,58.49 L104.28,58.44 L104.64,58.39 L105.01,58.35 L105.38,58.30 L105.74,58.25 L106.11,58.20 L106.48,58.16 L106.84,58.11 L107.21,58.06 L107.58,58.02 L107.94,57.97 L108.31,57.92 L108.68,57.88 L109.04,57.83 L109.41,57.79 L109.77,57.74 L110.14,57.70 L110.51,57.65 L110.87,57.61 L111.24,57.57 L111.61,57.52 L111.97,57.48 L112.34,57.44 L112.71,57.40 L113.07,57.36 L113.44,57.32 L113.81,57.28 L114.17,57.24 L114.54,57.20 L114.91,57.17 L115.27,57.13 L115.64,57.10 L116.00,57.06 L116.37,57.03 L116.74,57.00 L117.10,56.97 L117.47,56.94 L117.84,56.91 L118.20,56.88 L118.57,56.85 L118.94,56.83 L119.30,56.80 L119.67,56.77 L120.04,56.75 L120.40,56.72 L120.77,56.69 L121.14,56.67 L121.50,56.64 L121.87,56.61 L122.24,56.59 L122.60,56.56 L122.97,56.54 L123.34,56.51 L123.70,56.49 L124.07,56.46 L124.43,56.44 L124.80,56.41 L125.17,56.39 L125.53,56.36 L125.90,56.34 L126.27,56.31 L126.63,56.29 L127.00,56.27 L127.37,56.24 L127.73,56.22 L128.10,56.20 L128.47,56.17 L128.83,56.15 L129.20,56.13 L129.57,56.11 L129.93,56.08 L130.30,56.06 L130.67,56.04 L131.03,56.02 L131.40,56.00 L131.76,55.98 L132.13,55.95 L132.50,55.93 L132.86,55.91 L133.23,55.89 L133.60,55.87 L133.96,55.85 L134.33,55.83 L134.70,55.81 L135.06,55.80 L135.43,55.78 L135.80,55.76 L136.16,55.74 L136.53,55.72 L136.90,55.70 L137.26,55.69 L137.63,55.67 L138.00,55.65 L138.36,55.64 L138.73,55.62 L139.09,55.60 L139.46,55.59 L139.83,55.57 L140.19,55.56 L140.56,55.54 L140.93,55.53 L141.29,55.51 L141.66,55.50 L142.03,55.48 L142.39,55.47 L142.76,55.46 L143.13,55.44 L143.49,55.43 L143.86,55.42 L144.23,55.41 L144.59,55.40 L144.96,55.39 L145.32,55.37 L145.69,55.36 L146.06,55.35 L146.42,55.34 L146.79,55.33 L147.16,55.33 L147.52,55.32 L147.89,55.31 L148.26,55.30 L148.62,55.29 L148.99,55.29 L149.36,55.28 L149.72,55.27 L150.09,55.26 L150.46,55.26 L150.82,55.25 L151.19,55.24 L151.56,55.24 L151.92,55.23 L152.29,55.22 L152.66,55.22 L153.02,55.21 L153.39,55.20 L153.75,55.20 L154.12,55.19 L154.49,55.18 L154.85,55.18 L155.11,55.17 L155.22,55.17 L155.59,55.17 L155.95,55.16 L156.32,55.15 L156.69,55.15 L157.05,55.14 L157.42,55.14 L157.79,55.13 L158.15,55.13 L158.52,55.12 L158.89,55.11 L159.25,55.11 L159.62,55.10 L159.99,55.10 L160.35,55.09 L160.72,55.09 L161.08,55.08 L161.45,55.08 L161.82,55.07 L162.18,55.07 L162.55,55.06 L162.92,55.06 L163.28,55.05 L163.65,55.05 L164.02,55.04 L164.38,55.04 L164.75,55.03 L165.12,55.03 L165.48,55.02 L165.85,55.02 L166.22,55.02 L166.58,55.01 L166.95,55.01 L167.31,55.00 L167.68,55.00 L168.05,54.99 L168.41,54.99 L168.78,54.99 L169.15,54.98 L169.51,54.98 L169.88,54.97 L170.25,54.97 L170.61,54.96 L170.98,54.96 L171.35,54.96 L171.71,54.95 L172.08,54.95 L172.45,54.94 L172.81,54.94 L173.18,54.94 L173.55,54.93 L173.91,54.93 L174.28,54.93 L174.65,54.92 L175.01,54.92 L175.38,54.92 L175.74,54.91 L176.11,54.91 L176.48,54.90 L176.84,54.90 L177.21,54.90 L177.58,54.89 L177.94,54.89 L178.31,54.89 L178.68,54.88 L179.04,54.88 L179.41,54.88 L179.78,54.87 L180.14,54.87 L180.51,54.87 L180.88,54.86 L181.24,54.86 L181.61,54.86 L181.98,54.85 L182.34,54.85 L182.71,54.85 L183.07,54.84 L183.44,54.84 L183.81,54.84 L184.17,54.84 L184.54,54.83 L184.91,54.83 L185.27,54.83 L185.64,54.82 L186.01,54.82 L186.37,54.82 L186.74,54.81 L187.11,54.81 L187.47,54.81 L187.84,54.81 L188.21,54.80 L188.57,54.80 L188.94,54.80 L189.31,54.79 L189.67,54.79 L190.04,54.79 L190.40,54.78 L190.77,54.78 L191.14,54.78 L191.50,54.78 L191.87,54.77 L192.24,54.77 L192.60,54.77 L192.97,54.76 L193.34,54.76 L193.70,54.76 L194.07,54.76 L194.44,54.75 L194.80,54.75 L195.17,54.75 L195.54,54.74 L195.90,54.74 L196.27,54.74 L196.63,54.73 L197.00,54.73 L197.37,54.73 L197.73,54.73 L198.10,54.72 L198.47,54.72 L198.83,54.72 L199.20,54.71 L199.57,54.71 L199.93,54.71 L200.30,54.71 L200.67,54.70 L201.03,54.70 L201.40,54.70 L201.77,54.69 L202.13,54.69 L202.50,54.69 L202.87,54.68 L203.23,54.68 L203.60,54.68 L203.97,54.67 L204.33,54.67 L204.70,54.67 L205.06,54.67 L205.43,54.66 L205.80,54.66 L206.16,54.66 L206.53,54.65 L206.90,54.65 L207.26,54.65 L207.63,54.64 L208.00,54.64 L208.36,54.64 L208.73,54.64 L209.10,54.63 L209.46,54.63 L209.83,54.63 L210.20,54.62 L210.56,54.62 L210.93,54.62 L211.30,54.61 L211.66,54.61 L212.03,54.61 L212.39,54.61 L212.76,54.60 L213.13,54.60 L213.49,54.60 L213.86,54.59 L214.23,54.59 L214.59,54.59 L214.96,54.58 L215.33,54.58 L215.69,54.58 L216.06,54.58 L216.43,54.57 L216.79,54.57 L217.16,54.57 L217.53,54.56 L217.89,54.56 L218.26,54.56 L218.63,54.56 L218.99,54.55 L219.36,54.55 L219.72,54.55 L220.09,54.55 L220.46,54.54 L220.82,54.54 L221.19,54.54 L221.56,54.53 L221.92,54.53 L222.29,54.53 L222.66,54.53 L223.02,54.52 L223.39,54.52 L223.76,54.52 L224.12,54.52 L224.49,54.51 L224.86,54.51 L225.22,54.51 L225.59,54.51 L225.96,54.50 L226.32,54.50 L226.69,54.50 L227.05,54.50 L227.42,54.49 L227.79,54.49 L228.15,54.49 L228.52,54.49 L228.89,54.49 L229.25,54.48 L229.62,54.48 L229.99,54.48 L230.35,54.48 L230.72,54.47 L231.09,54.47 L231.45,54.47 L231.82,54.47 L232.19,54.47 L232.55,54.46 L232.92,54.46 L233.29,54.46 L233.65,54.46 L234.02,54.46 L234.38,54.45 L234.75,54.45 L235.12,54.45 L235.48,54.45 L235.85,54.45 L236.22,54.45 L236.58,54.44 L236.95,54.44 L237.32,54.44 L237.68,54.44 L238.05,54.44 L238.42,54.44 L238.78,54.43 L239.15,54.43 L239.52,54.43 L239.88,54.43 L240.25,54.43 L240.62,54.43 L240.98,54.43 L241.35,54.42 L241.71,54.42 L242.08,54.42 L242.45,54.42 L242.81,54.42 L243.18,54.42 L243.55,54.42 L243.91,54.42 L244.28,54.42 L244.65,54.41 L245.01,54.41 L245.38,54.41 L245.75,54.41 L246.11,54.41 L246.48,54.41 L246.85,54.41 L247.21,54.41 L247.58,54.41 L247.95,54.41 L248.31,54.40 L248.68,54.40 L249.04,54.40 L249.41,54.40 L249.78,54.40 L250.14,54.40 L250.51,54.40 L250.88,54.40 L251.24,54.40 L251.61,54.40 L251.98,54.40 L252.34,54.39 L252.71,54.39 L253.08,54.39 L253.44,54.39 L253.81,54.39 L254.18,54.39 L254.54,54.39 L254.91,54.39 L255.28,54.39 L255.64,54.39 L256.01,54.39 L256.37,54.39 L256.74,54.38 L257.11,54.38 L257.47,54.38 L257.84,54.38 L258.21,54.38 L258.57,54.38 L258.94,54.38 L259.31,54.38 L259.67,54.38 L260.04,54.38 L260.41,54.38 L260.77,54.38 L261.14,54.38 L261.51,54.37 L261.87,54.37 L262.24,54.37 L262.61,54.37 L262.97,54.37 L263.34,54.37 L263.70,54.37 L264.07,54.37 L264.44,54.37 L264.80,54.37 L265.17,54.37 L265.54,54.37 L265.90,54.37 L266.27,54.37 L266.64,54.36 L267.00,54.36 L267.37,54.36 L267.74,54.36 L268.10,54.36 L268.47,54.36 L268.84,54.36 L269.20,54.36 L269.57,54.36 L269.94,54.36 L270.30,54.36 L270.67,54.36 L271.03,54.36 L271.40,54.36 L271.77,54.36 L272.13,54.36 L272.50,54.35 L272.87,54.35 L273.23,54.35 L273.60,54.35 L273.97,54.35 L274.33,54.35 L274.70,54.35 L275.07,54.35 L275.43,54.35 L275.80,54.35 L276.17,54.35 L276.53,54.35 L276.90,54.35 L277.27,54.35 L277.63,54.35 L278.00,54.35 L278.36,54.35 L278.73,54.35 L279.10,54.34 L279.46,54.34 L279.83,54.34 L280.20,54.34 L280.56,54.34 L280.93,54.34 L281.30,54.34 L281.66,54.34 L282.03,54.34 L282.40,54.34 L282.76,54.34 L283.13,54.34 L283.50,54.34 L283.86,54.34 L284.23,54.34 L284.60,54.34 L284.96,54.34 L285.33,54.34 L285.69,54.34 L286.06,54.34 L286.43,54.33 L286.79,54.33 L287.16,54.33 L287.53,54.33 L287.89,54.33 L288.26,54.33 L288.63,54.33 L288.99,54.33 L289.36,54.33 L289.73,54.33 L290.09,54.33 L290.46,54.33 L290.83,54.33 L291.19,54.33 L291.56,54.33 L291.93,54.33 L292.29,54.33 L292.66,54.33 L293.02,54.33 L293.39,54.33 L293.76,54.33 L294.12,54.32 L294.49,54.32 L294.86,54.32 L295.22,54.32 L295.59,54.32 L295.96,54.32 L296.32,54.32 L296.69,54.32 L297.06,54.32 L297.42,54.32 L297.79,54.32 L298.16,54.32 L298.52,54.32 L298.89,54.32 L299.25,54.32 L299.62,54.32 L299.99,54.32 L300.35,54.32 L300.72,54.32 L301.09,54.32 L301.45,54.32 L301.82,54.32 L302.19,54.32 L302.55,54.31 L302.92,54.31 L303.29,54.31 L303.65,54.31 L304.02,54.31 L304.39,54.31 L304.75,54.31 L305.12,54.31 L305.49,54.31 L305.85,54.31 L306.22,54.31 L306.58,54.31 L306.95,54.31 L307.32,54.31 L307.68,54.31 L308.05,54.31 L308.42,54.31 L308.78,54.31 L309.15,54.31 L309.52,54.31 L309.88,54.31 L310.25,54.31 L310.62,54.31 L310.98,54.30 L311.35,54.30 L311.72,54.30 L312.08,54.30 L312.45,54.30 L312.82,54.30 L313.18,54.30 L313.55,54.30 L313.91,54.30 L314.28,54.30 L314.65,54.30 L315.01,54.30 L315.38,54.30 L315.75,54.30 L316.11,54.30 L316.48,54.30 L316.85,54.30 L317.21,54.30 L317.58,54.30 L317.95,54.30 L318.31,54.30 L318.68,54.29 L319.05,54.29 L319.41,54.29 L319.78,54.29 L320.15,54.29 L320.51,54.29 L320.88,54.29 L321.25,54.29 L321.61,54.29 L321.98,54.29 L322.34,54.29 L322.71,54.29 L323.08,54.29 L323.44,54.29 L323.81,54.29 L324.18,54.29 L324.54,54.29 L324.91,54.29 L325.28,54.29 L325.64,54.29 L326.01,54.29 L326.38,54.28 L326.74,54.28 L327.11,54.28 L327.48,54.28 L327.84,54.28 L328.21,54.28 L328.57,54.28 L328.94,54.28 L329.31,54.28 L329.67,54.28 L330.04,54.28 L330.41,54.28 L330.77,54.27 L331.14,54.27 L331.51,54.26 L331.87,54.25 L332.24,54.23 L332.61,54.20 L332.97,54.17 L333.34,54.13 L333.71,54.09 L334.07,54.05 L334.44,54.01 L334.81,53.99 L335.17,53.98 L335.54,53.99 L335.90,54.01 L336.27,54.04 L336.64,54.08 L337.00,54.12 L337.37,54.16 L337.74,54.19 L338.10,54.22 L338.47,54.24 L338.84,54.25 L339.20,54.25 L339.20,54.26 L339.57,54.44 L339.94,54.62 L340.30,54.80 L340.67,54.98 L341.04,55.16 L341.40,55.34 L341.77,55.53 L342.14,55.72 L342.50,55.91 L342.87,56.10 L343.24,56.29 L343.60,56.49 L343.97,56.68 L344.33,56.88 L344.70,57.08 L345.07,57.27 L345.43,57.47 L345.80,57.67 L346.17,57.87 L346.53,58.07 L346.90,58.28 L347.27,58.48 L347.63,58.68 L348.00,58.88 L348.37,59.09 L348.73,59.29 L349.10,59.50 L349.47,59.70 L349.83,59.91 L350.20,60.11 L350.56,60.32 L350.93,60.52 L351.30,60.73 L351.66,60.93 L352.03,61.14 L352.40,61.35 L352.76,61.55 L353.13,61.76 L353.50,61.96 L353.86,62.17 L354.23,62.38 L354.60,62.58 L354.96,62.79 L355.33,62.99 L355.70,63.20 L356.06,63.41 L356.43,63.61 L356.80,63.82 L357.16,64.02 L357.53,64.23 L357.89,64.43 L358.26,64.63 L358.63,64.84 L358.99,65.04 L359.36,65.25 L359.73,65.45 L360.09,65.65 L360.46,65.86 L360.83,66.06 L361.19,66.26 L361.56,66.46 L361.93,66.66 L362.29,66.86 L362.66,67.07 L363.03,67.27 L363.39,67.47 L363.76,67.67 L364.13,67.87 L364.49,68.07 L364.86,68.26 L365.22,68.46 L365.59,68.66 L365.96,68.86 L366.32,69.06 L366.69,69.25 L367.06,69.45 L367.42,69.65 L367.79,69.84 L368.16,70.04 L368.52,70.23 L368.89,70.43 L369.26,70.62 L369.62,70.82 L369.99,71.01 L370.36,71.20 L370.72,71.40 L371.09,71.59 L371.46,71.78 L371.82,71.97 L372.19,72.16 L372.56,72.35 L372.92,72.54 L373.29,72.73 L373.65,72.92 L374.02,73.11 L374.39,73.30 L374.75,73.49 L375.12,73.68 L375.49,73.87 L375.85,74.05 L376.22,74.24 L376.59,74.43 L376.95,74.61 L377.32,74.80 L377.69,74.98 L378.05,75.17 L378.42,75.35 L378.79,75.54 L379.15,75.72 L379.52,75.90 L379.88,76.09 L380.25,76.27 L380.62,76.45 L380.98,76.63 L381.35,76.81 L381.72,77.00 L382.08,77.18 L382.45,77.36 L382.82,77.54 L383.18,77.71 L383.55,77.89 L383.92,78.07 L384.28,78.25 L384.65,78.43 L385.02,78.61 L385.38,78.78 L385.75,78.96 L386.12,79.14 L386.48,79.31 L386.85,79.49 L387.21,79.66 L387.58,79.84 L387.95,80.01 L388.31,80.19 L388.68,80.36 L389.05,80.53 L389.41,80.71 L389.78,80.88 L390.15,81.05 L390.51,81.22 L390.88,81.39 L391.25,81.56 L391.61,81.73 L391.98,81.91 L392.35,82.08 L392.71,82.24 L393.08,82.41 L393.45,82.58 L393.81,82.75 L394.18,82.92 L394.55,83.09 L394.91,83.25 L395.28,83.42 L395.64,83.59 L396.01,83.75 L396.38,83.92 L396.74,84.09 L397.11,84.25 L397.48,84.42 L397.84,84.58 L398.21,84.75 L398.58,84.91 L398.94,85.07 L399.31,85.24 L399.68,85.40 L400.04,85.56 L400.41,85.72 L400.78,85.89 L401.14,86.05 L401.51,86.21 L401.88,86.37 L402.24,86.53 L402.61,86.69 L402.97,86.85 L403.34,87.01 L403.71,87.17 L404.07,87.33 L404.44,87.49 L404.81,87.64 L405.17,87.80 L405.54,87.96 L405.91,88.12 L406.27,88.27 L406.64,88.43 L407.01,88.59 L407.37,88.74 L407.74,88.90 L408.11,89.05 L408.47,89.21 L408.84,89.36 L409.20,89.52 L409.57,89.67 L409.94,89.82 L410.30,89.98 L410.67,90.13 L411.04,90.28 L411.40,90.43 L411.77,90.59 L412.14,90.74 L412.50,90.89 L412.87,91.04 L413.24,91.19 L413.60,91.34 L413.97,91.49 L414.34,91.64 L414.70,91.79 L415.07,91.94 L415.44,92.09 L415.80,92.24 L416.17,92.39 L416.53,92.54 L416.90,92.68 L417.27,92.83 L417.63,92.98 L418.00,93.12 L418.37,93.27 L418.73,93.42 L419.10,93.56 L419.47,93.71 L419.83,93.85 L420.20,94.00" stroke="#008800" stroke-width="2.75" stroke-linecap="round"/>
</g>
<g stroke="#000" stroke-width="0.95">
<line x1="43.75" y1="239.00" x2="48.55" y2="239.00"/>
<line x1="43.75" y1="231.75" x2="46.35" y2="231.75"/>
<line x1="43.75" y1="224.50" x2="46.35" y2="224.50"/>
<line x1="43.75" y1="217.25" x2="46.35" y2="217.25"/>
<line x1="43.75" y1="210.00" x2="48.55" y2="210.00"/>
<line x1="43.75" y1="202.75" x2="46.35" y2="202.75"/>
<line x1="43.75" y1="195.50" x2="46.35" y2="195.50"/>
<line x1="43.75" y1="188.25" x2="46.35" y2="188.25"/>
<line x1="43.75" y1="181.00" x2="48.55" y2="181.00"/>
<line x1="43.75" y1="173.75" x2="46.35" y2="173.75"/>
<line x1="43.75" y1="166.50" x2="46.35" y2="166.50"/>
<line x1="43.75" y1="159.25" x2="46.35" y2="159.25"/>
<line x1="43.75" y1="152.00" x2="48.55" y2="152.00"/>
<line x1="43.75" y1="144.75" x2="46.35" y2="144.75"/>
<line x1="43.75" y1="137.50" x2="46.35" y2="137.50"/>
<line x1="43.75" y1="130.25" x2="46.35" y2="130.25"/>
<line x1="43.75" y1="123.00" x2="48.55" y2="123.00"/>
<line x1="43.75" y1="115.75" x2="46.35" y2="115.75"/>
<line x1="43.75" y1="108.50" x2="46.35" y2="108.50"/>
<line x1="43.75" y1="101.25" x2="46.35" y2="101.25"/>
<line x1="43.75" y1="94.00" x2="48.55" y2="94.00"/>
<line x1="43.75" y1="86.75" x2="46.35" y2="86.75"/>
<line x1="43.75" y1="79.50" x2="46.35" y2="79.50"/>
<line x1="43.75" y1="72.25" x2="46.35" y2="72.25"/>
<line x1="43.75" y1="65.00" x2="48.55" y2="65.00"/>
<line x1="43.75" y1="57.75" x2="46.35" y2="57.75"/>
<line x1="43.75" y1="50.50" x2="46.35" y2="50.50"/>
<line x1="43.75" y1="43.25" x2="46.35" y2="43.25"/>
<line x1="43.75" y1="36.00" x2="48.55" y2="36.00"/>
<line x1="43.75" y1="28.75" x2="46.35" y2="28.75"/>
<line x1="43.75" y1="21.50" x2="46.35" y2="21.50"/>
<line x1="43.75" y1="14.25" x2="46.35" y2="14.25"/>
<line x1="43.75" y1="7.00" x2="48.55" y2="7.00"/>
<line x1="54.05" y1="247.20" x2="54.05" y2="242.40"/>
<line x1="72.37" y1="247.20" x2="72.37" y2="244.60"/>
<line x1="90.69" y1="247.20" x2="90.69" y2="244.60"/>
<line x1="109.01" y1="247.20" x2="109.01" y2="244.60"/>
<line x1="127.33" y1="247.20" x2="127.33" y2="242.40"/>
<line x1="145.65" y1="247.20" x2="145.65" y2="244.60"/>
<line x1="163.97" y1="247.20" x2="163.97" y2="244.60"/>
<line x1="182.29" y1="247.20" x2="182.29" y2="244.60"/>
<line x1="200.61" y1="247.20" x2="200.61" y2="242.40"/>
<line x1="218.93" y1="247.20" x2="218.93" y2="244.60"/>
<line x1="237.25" y1="247.20" x2="237.25" y2="244.60"/>
<line x1="255.57" y1="247.20" x2="255.57" y2="244.60"/>
<line x1="273.89" y1="247.20" x2="273.89" y2="242.40"/>
<line x1="292.21" y1="247.20" x2="292.21" y2="244.60"/>
<line x1="310.53" y1="247.20" x2="310.53" y2="244.60"/>
<line x1="328.85" y1="247.20" x2="328.85" y2="244.60"/>
<line x1="347.17" y1="247.20" x2="347.17" y2="242.40"/>
<line x1="365.49" y1="247.20" x2="365.49" y2="244.60"/>
<line x1="383.81" y1="247.20" x2="383.81" y2="244.60"/>
<line x1="402.13" y1="247.20" x2="402.13" y2="244.60"/>
<line x1="420.45" y1="247.20" x2="420.45" y2="242.40"/>
</g>
<rect x="43.75" y="7.10" width="387.20" height="240.10" fill="none" stroke="#000" stroke-width="1.25"/>
<g mask="url(#m)" stroke-width="0.25">
<g>
<text transform="translate(38.98,244.45) rotate(0.03)" font-size="14.80px" text-anchor="end">0</text>
<text transform="translate(39.14,215.45) rotate(0.03)" font-size="14.80px" text-anchor="end">0.2</text>
<text transform="translate(38.83,186.45) rotate(0.03)" font-size="14.80px" text-anchor="end">0.4</text>
<text transform="translate(39.05,157.45) rotate(0.03)" font-size="14.80px" text-anchor="end">0.6</text>
<text transform="translate(39.04,128.45) rotate(0.03)" font-size="14.80px" text-anchor="end">0.8</text>
<text transform="translate(40.12,99.45) rotate(0.03)" font-size="14.80px" text-anchor="end">1</text>
<text transform="translate(39.14,70.45) rotate(0.03)" font-size="14.80px" text-anchor="end">1.2</text>
<text transform="translate(38.83,41.45) rotate(0.03)" font-size="14.80px" text-anchor="end">1.4</text>
<text transform="translate(39.05,12.45) rotate(0.03)" font-size="14.80px" text-anchor="end">1.6</text>
<text transform="translate(53.60,264.30) rotate(0.03)" font-size="14.80px" text-anchor="middle">0</text>
<text transform="translate(126.88,264.30) rotate(0.03)" font-size="14.80px" text-anchor="middle">20</text>
<text transform="translate(200.16,264.30) rotate(0.03)" font-size="14.80px" text-anchor="middle">40</text>
<text transform="translate(273.44,264.30) rotate(0.03)" font-size="14.80px" text-anchor="middle">60</text>
<text transform="translate(346.72,264.30) rotate(0.03)" font-size="14.80px" text-anchor="middle">80</text>
<text transform="translate(420.00,264.30) rotate(0.03)" font-size="14.80px" text-anchor="middle">100</text>
</g>
<text transform="translate(216.88,285.20) rotate(0.03) scale(1.060,1)" font-size="16.60px">Δ</text>
<text transform="translate(229.22,285.20) rotate(0.03) scale(1.180,1)" font-size="16.60px" stroke-width="0">τ</text>
<text transform="translate(237.71,285.20) rotate(0.03)" font-size="16.60px">,</text>
<text transform="translate(247.61,285.20) rotate(0.03) scale(1.170,1)" font-size="16.60px">Γ</text>
<g transform="translate(16.4,0) rotate(-90)">
<text transform="translate(-113.17,0.00)" font-size="17.00px">I</text>
<text transform="translate(-107.93,5.20)" font-size="12.70px">dc</text>
<text transform="translate(-94.26,3.90)" font-size="14.00px">,</text>
<text transform="translate(-84.57,0.00)" font-size="17.00px">I</text>
<text transform="translate(-79.62,5.60) scale(0.750,1)" font-size="14.30px">0</text>
</g>
<g>
<text transform="translate(69.63,29.25) rotate(0.03) scale(1.260,1)" font-size="15.00px" stroke-width="0">τ</text>
<text transform="translate(76.95,32.50) rotate(0.03)" font-size="10.60px">delay</text>
<text transform="translate(104.04,29.45) rotate(0.03) scale(0.950,1)" font-size="16.30px">=</text>
<text transform="translate(114.36,29.45) rotate(0.03)" font-size="16.30px">0</text>
<text transform="translate(148.43,29.25) rotate(0.03) scale(1.260,1)" font-size="15.00px" stroke-width="0">τ</text>
<text transform="translate(155.55,32.50) rotate(0.03)" font-size="10.60px">delay</text>
<text transform="translate(182.54,29.45) rotate(0.03) scale(0.950,1)" font-size="16.30px">=</text>
<text transform="translate(192.78,29.45) rotate(0.03)" font-size="16.30px">25</text>
<text transform="translate(211.71,29.45) rotate(0.03) scale(1.040,1)" font-size="16.30px">Γ</text>
<text transform="translate(238.03,29.25) rotate(0.03) scale(1.260,1)" font-size="15.00px" stroke-width="0">τ</text>
<text transform="translate(244.95,32.50) rotate(0.03)" font-size="10.60px">delay</text>
<text transform="translate(271.54,29.45) rotate(0.03) scale(0.950,1)" font-size="16.30px">=</text>
<text transform="translate(282.45,29.45) rotate(0.03)" font-size="16.30px">50</text>
<text transform="translate(301.21,29.45) rotate(0.03) scale(1.040,1)" font-size="16.30px">Γ</text>
<text transform="translate(327.53,29.25) rotate(0.03) scale(1.260,1)" font-size="15.00px" stroke-width="0">τ</text>
<text transform="translate(334.55,32.50) rotate(0.03)" font-size="10.60px">delay</text>
<text transform="translate(360.94,29.45) rotate(0.03) scale(0.950,1)" font-size="16.30px">=</text>
<text transform="translate(372.06,29.45) rotate(0.03)" font-size="16.30px">75</text>
<text transform="translate(390.61,29.45) rotate(0.03) scale(1.040,1)" font-size="16.30px">Γ</text>
</g>
</g>
<g fill="none" stroke-width="2.4">
<line x1="62.0" y1="38.7" x2="134.8" y2="38.7" stroke="#000" stroke-dasharray="7.0,5.5"/>
<line x1="150.3" y1="38.7" x2="222.4" y2="38.7" stroke="#980808" stroke-width="2.5" stroke-dasharray="3.4,1.45"/>
<line x1="238.9" y1="38.7" x2="311.5" y2="38.7" stroke="#000090" stroke-dasharray="8.2,2.0,3.8,2.05"/>
<line x1="327.9" y1="38.7" x2="400.4" y2="38.7" stroke="#008800"/>
</g>
</svg>
</body></html>
